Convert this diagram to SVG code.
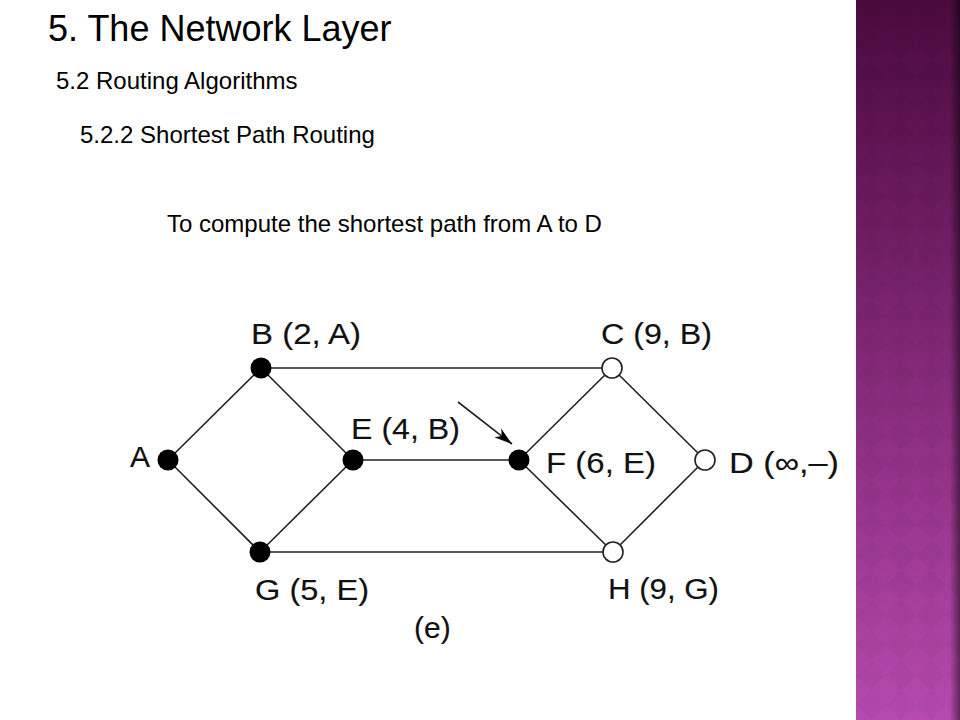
<svg xmlns="http://www.w3.org/2000/svg" width="960" height="720" viewBox="0 0 960 720">
  <defs>
    <linearGradient id="band" x1="0" y1="0" x2="0" y2="1">
      <stop offset="0" stop-color="#4a0a3d"/>
      <stop offset="0.5" stop-color="#832877"/>
      <stop offset="1" stop-color="#b64aae"/>
    </linearGradient>
    <linearGradient id="shade" x1="0" y1="0" x2="1" y2="0">
      <stop offset="0" stop-color="#000" stop-opacity="0"/>
      <stop offset="1" stop-color="#000" stop-opacity="0.45"/>
    </linearGradient>
    <pattern id="diam" x="856" y="0" width="30" height="30" patternUnits="userSpaceOnUse">
      <polygon points="15,0 30,15 15,30 0,15" fill="#000" fill-opacity="0.03"/>
    </pattern>
    <marker id="ah" viewBox="0 0 18 12" refX="18" refY="6" markerWidth="18" markerHeight="12" markerUnits="userSpaceOnUse" orient="auto">
      <polygon points="0,0.5 18,6 0,11.5 5,6" fill="#000"/>
    </marker>
    <style>
      .h { font-family: "Liberation Sans", Arial, sans-serif; fill: #000; }
      .lbl { font-family: "Liberation Sans", Arial, sans-serif; font-size: 30px; fill: #111; stroke: #111; stroke-width: 0.15; }
      .edge { stroke: #222; stroke-width: 1.6; fill: none; }
      .on { fill: #000; }
      .off { fill: #fff; stroke: #222; stroke-width: 1.6; }
    </style>
  </defs>
  <rect width="960" height="720" fill="#fff"/>
  <g id="band-deco">
    <rect x="856" y="0" width="104" height="720" fill="url(#band)"/>
    <rect x="856" y="0" width="104" height="720" fill="url(#diam)"/>
    <rect x="950" y="0" width="10" height="720" fill="url(#shade)"/>
  </g>
  <g id="headings">
    <text class="h" x="48" y="41" font-size="36">5. The Network Layer</text>
    <text class="h" x="56" y="89" font-size="24">5.2 Routing Algorithms</text>
    <text class="h" x="80" y="143" font-size="24">5.2.2 Shortest Path Routing</text>
    <text class="h" x="167" y="232" font-size="24">To compute the shortest path from A to D</text>
  </g>
  <g id="connectors">
    <line class="edge" x1="168" y1="460" x2="261" y2="368"/>
    <line class="edge" x1="168" y1="460" x2="260" y2="552"/>
    <line class="edge" x1="261" y1="368" x2="353" y2="460"/>
    <line class="edge" x1="260" y1="552" x2="353" y2="460"/>
    <line class="edge" x1="261" y1="368" x2="612" y2="368"/>
    <line class="edge" x1="353" y1="460" x2="519" y2="460"/>
    <line class="edge" x1="260" y1="552" x2="613" y2="552"/>
    <line class="edge" x1="519" y1="460" x2="612" y2="368"/>
    <line class="edge" x1="519" y1="460" x2="613" y2="552"/>
    <line class="edge" x1="612" y1="368" x2="705" y2="460"/>
    <line class="edge" x1="613" y1="552" x2="705" y2="460"/>
    <line class="edge" x1="458" y1="402" x2="512" y2="444" marker-end="url(#ah)"/>
  </g>
  <g id="node-A">
    <circle class="on" cx="168" cy="460" r="10.5"/>
    <text class="lbl" x="130" y="467">A</text>
  </g>
  <g id="node-B">
    <circle class="on" cx="261" cy="368" r="10.5"/>
    <text class="lbl" x="251" y="344" textLength="110" lengthAdjust="spacingAndGlyphs">B (2, A)</text>
  </g>
  <g id="node-E">
    <circle class="on" cx="353" cy="460" r="10.5"/>
    <text class="lbl" x="351" y="439" textLength="109" lengthAdjust="spacingAndGlyphs">E (4, B)</text>
  </g>
  <g id="node-G">
    <circle class="on" cx="260" cy="552" r="10.5"/>
    <text class="lbl" x="255" y="600" textLength="114" lengthAdjust="spacingAndGlyphs">G (5, E)</text>
  </g>
  <g id="node-F">
    <circle class="on" cx="519" cy="460" r="10.5"/>
    <text class="lbl" x="546" y="473" textLength="110" lengthAdjust="spacingAndGlyphs">F (6, E)</text>
  </g>
  <g id="node-C">
    <circle class="off" cx="612" cy="368" r="10"/>
    <text class="lbl" x="601" y="344" textLength="111" lengthAdjust="spacingAndGlyphs">C (9, B)</text>
  </g>
  <g id="node-H">
    <circle class="off" cx="613" cy="552" r="10"/>
    <text class="lbl" x="608" y="599" textLength="111" lengthAdjust="spacingAndGlyphs">H (9, G)</text>
  </g>
  <g id="node-D">
    <circle class="off" cx="705" cy="460" r="10"/>
    <text class="lbl" x="729" y="473" textLength="110" lengthAdjust="spacingAndGlyphs">D (∞,–)</text>
  </g>
  <text class="lbl" x="414" y="638">(e)</text>
</svg>
